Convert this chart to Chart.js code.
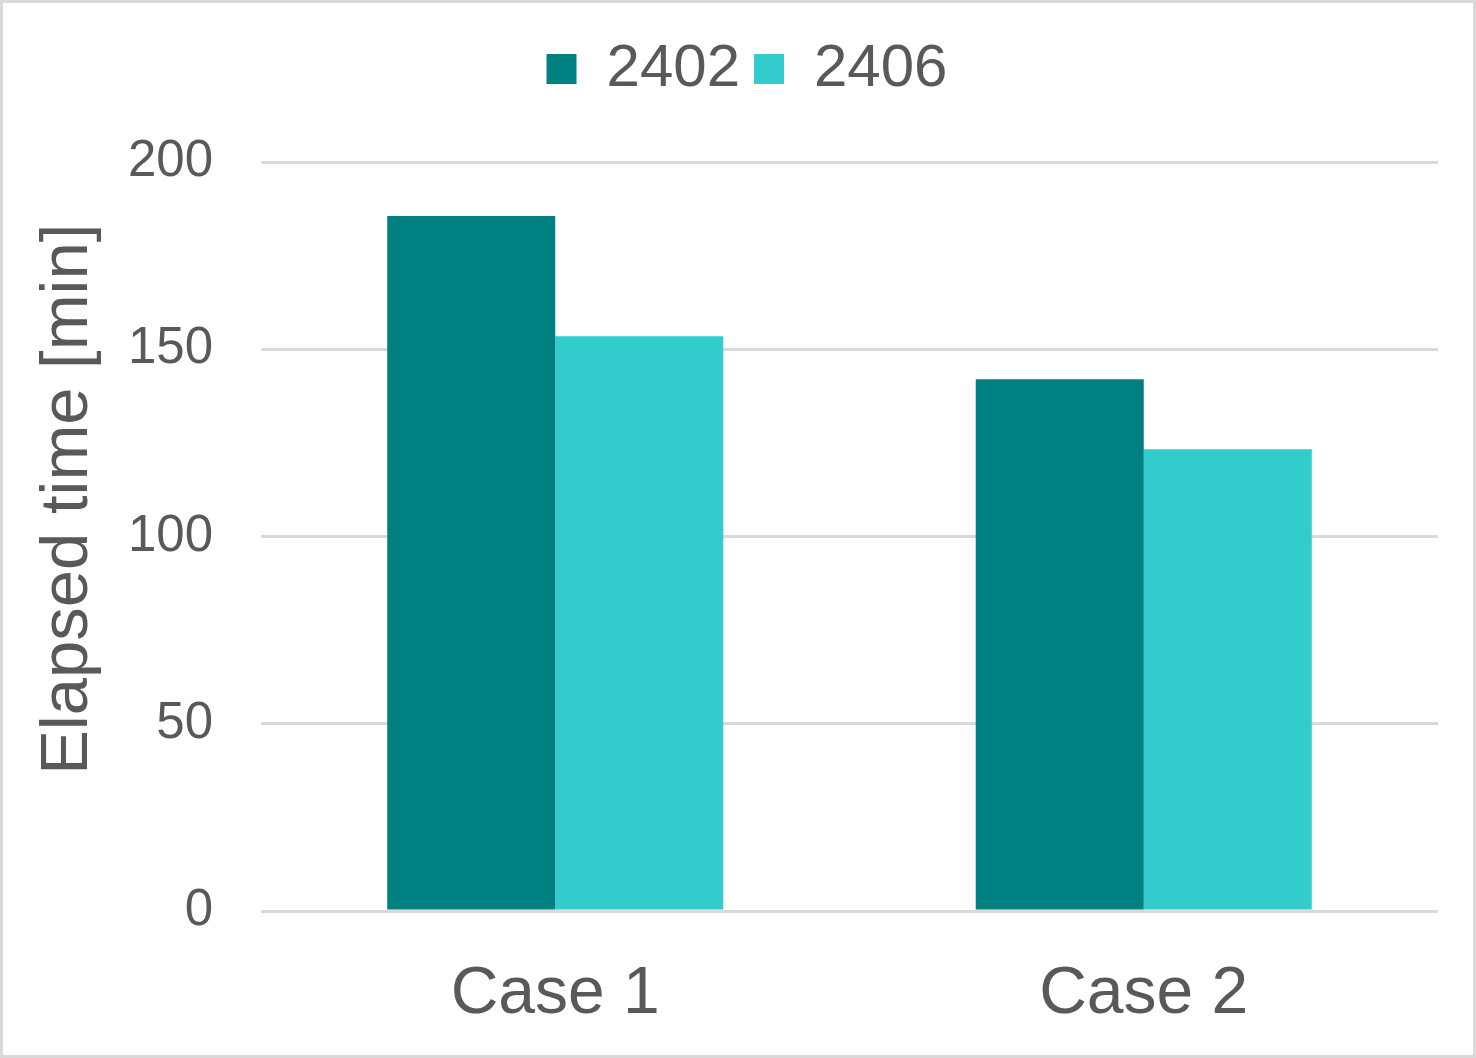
<!DOCTYPE html>
<html>
<head>
<meta charset="utf-8">
<script src="https://cdn.jsdelivr.net/npm/chart.js@4/dist/chart.umd.min.js"></script>
<style>
  html, body { margin: 0; padding: 0; background: #fff; }
  #wrap { width: 1476px; height: 1058px; position: relative; }
</style>
</head>
<body>
<div id="wrap"><canvas id="chart"></canvas></div>
<script>
const categories = ['Case 1', 'Case 2'];
const series2402 = [185.6, 142.0];
const series2406 = [153.5, 123.3];
const yTicks = [0, 50, 100, 150, 200];

const textColor = '#595959';
const gridColor = '#d9d9d9';
const font = 'Liberation Sans, Arial, sans-serif';

// light grey frame round the whole picture
const framePlugin = {
    id: 'frame',
    afterDraw(chart) {
        const ctx = chart.ctx;
        ctx.save();
        ctx.strokeStyle = '#d9d9d9';
        ctx.lineWidth = 3;
        ctx.strokeRect(1.5, 1.5, chart.width - 3, chart.height - 3);
        ctx.restore();
    }
};

// extra room under the legend, and nudge it a bit right
const legendTweak = {
    id: 'legendTweak',
    beforeInit(chart) {
        const legend = chart.legend;
        const fit = legend.fit;
        legend.fit = function () {
            fit.call(this);
            this.height += 53;
        };
    },
    beforeDraw(chart) {
        chart.legend.left += 28;
        chart.legend.right += 28;
    }
};

const ctx = document.getElementById('chart').getContext('2d');
new Chart(ctx, {
    type: 'bar',
    data: {
        labels: categories,
        datasets: [
            { label: '2402', data: series2402, backgroundColor: '#008080' },
            { label: '2406', data: series2406, backgroundColor: '#33cccc' }
        ]
    },
    options: {
        responsive: true,
        maintainAspectRatio: false,
        animation: false,
        events: [],
        devicePixelRatio: 1,
        layout: { padding: { left: 0, right: 38, top: 25, bottom: 0 } },
        datasets: { bar: { categoryPercentage: 0.571, barPercentage: 1.0 } },
        plugins: {
            tooltip: { enabled: false },
            legend: {
                position: 'top',
                labels: {
                    color: textColor,
                    font: { family: font, size: 60 },
                    boxWidth: 30,
                    boxHeight: 30,
                    padding: 14
                }
            }
        },
        scales: {
            x: {
                grid: { display: false, drawTicks: false },
                border: { display: false },
                ticks: {
                    color: textColor,
                    font: { family: font, size: 66 },
                    padding: 44
                },
                afterFit(scale) { scale.height = 147; }
            },
            y: {
                min: 0,
                max: 200,
                grid: { color: gridColor, lineWidth: 3, drawTicks: false },
                border: { display: false },
                afterBuildTicks(scale) {
                    scale.ticks = yTicks.map(v => ({ value: v }));
                },
                ticks: {
                    color: textColor,
                    font: { family: font, size: 51 },
                    padding: 48
                },
                title: {
                    display: true,
                    text: '    Elapsed time [min]',
                    color: textColor,
                    font: { family: font, size: 67 },
                    padding: { top: 28, bottom: 0 }
                },
                afterFit(scale) { scale.width = 261; }
            }
        }
    },
    plugins: [framePlugin, legendTweak]
});
</script>
</body>
</html>
